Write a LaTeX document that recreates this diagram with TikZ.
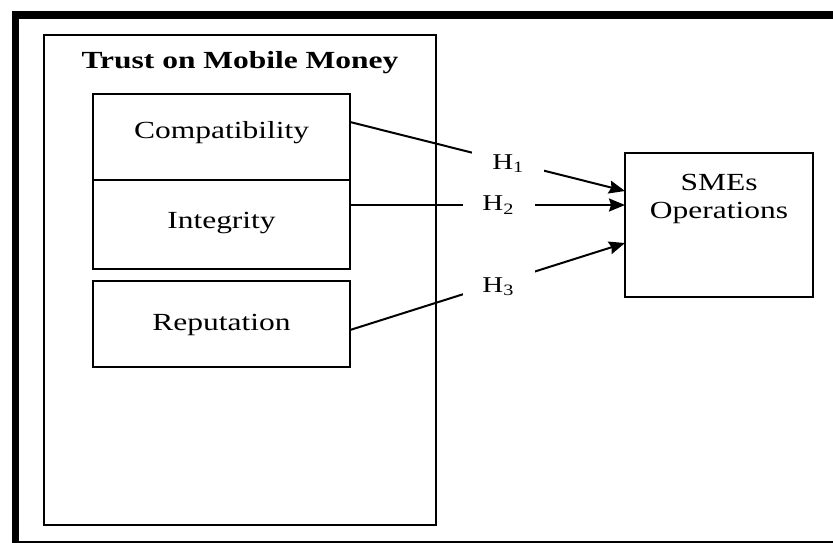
\documentclass[tikz,border=0pt]{standalone}
\usepackage{fontspec}
\setmainfont{Liberation Serif}
\usetikzlibrary{arrows.meta}
\newcommand{\widetext}[1]{\scalebox{1.28}[1]{#1}}

\tikzset{
  factor/.style={draw, outer sep=0pt, inner sep=0pt, minimum width=128.5pt, text height=8.4pt},
  hyp/.style={fill=white, inner sep=0pt, minimum width=36pt, minimum height=18pt, font=\fontsize{11.3}{13}\selectfont},
  link/.style={-{Stealth[length=8pt,width=6.5pt,inset=1pt]}}
}

\begin{document}
\begin{tikzpicture}[x=0.5pt, y=-0.5pt, font=\fontsize{12.3}{14}\selectfont]
\useasboundingbox (0,0) rectangle (833,542);
\clip (0,0) rectangle (833,542);
\coordinate (t) at (240,280);
\coordinate (c) at (221.5,137);
\coordinate (i) at (221.5,224.5);
\coordinate (r) at (221.5,324);
\coordinate (s) at (719,225);
% draws frame
\draw[line width=3.75pt] (15.5,15) rectangle (840,545);
\begin{scope}[line width=1pt]
% draws boxes
\node[factor, minimum width=196pt, minimum height=245pt] (trust) at (t) {};
\node[anchor=base] (title) at (240,68) {\widetext{\textbf{Trust on Mobile Money}}};
\node[factor, minimum height=43pt, text depth=7.4pt] (comp) at (c) {\widetext{Compatibility}};
\node[factor, minimum height=44.5pt, text depth=4.9pt] (integ) at (i) {\widetext{Integrity}};
\node[factor, minimum height=43pt, text depth=2.4pt] (rep) at (r) {\widetext{Reputation}};
\node[factor, minimum width=94pt, minimum height=72pt,
  label={[anchor=north, align=center, inner sep=0pt, yshift=-10.2pt]north:{\widetext{SMEs}\\\widetext{Operations}}}] (sme) at (s) {};
% draws hypotheses
\draw[link] ([yshift=7.5pt]comp.east) -- node[hyp, pos=0.576, yshift=-1pt] (h1) {\widetext{H\textsubscript{1}}} ([yshift=17pt]sme.west);
\draw[link] ([yshift=9.75pt]integ.east) -- node[hyp, pos=0.54] (h2) {\widetext{H\textsubscript{2}}} ([yshift=10pt]sme.west);
\draw[link] ([yshift=-3pt]rep.east) -- node[hyp, pos=0.54, yshift=-2pt] (h3) {\widetext{H\textsubscript{3}}} ([yshift=-9pt]sme.west);
\end{scope}
\end{tikzpicture}
\end{document}
